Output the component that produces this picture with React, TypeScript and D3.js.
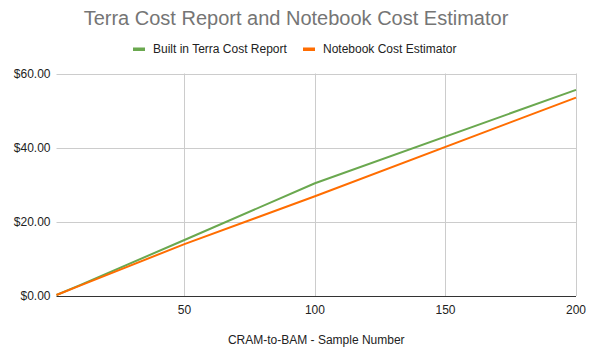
import { useEffect, useRef } from 'react'
import * as d3 from 'd3'

const samples = [1, 10, 50, 100, 200]
const terraCost = [0.28, 2.95, 15.1, 30.4, 55.6]
const notebookCost = [0.27, 2.8, 14.0, 26.9, 53.5]
const xTicks = [50, 100, 150, 200]
const yTicks = [0, 20, 40, 60]

const seriesNames = ['Built in Terra Cost Report', 'Notebook Cost Estimator']
const seriesColors = ['#6aa84f', '#ff6d01']

export default function App() {
  const svgRef = useRef<SVGSVGElement>(null)
  const width = 592
  const height = 354
  const margin = { top: 73.5, right: 16, bottom: 58, left: 56.5 }

  useEffect(() => {
    if (!svgRef.current) return
    const svg = d3.select(svgRef.current)
    svg.selectAll('*').remove()

    const font = 'Arial, "Liberation Sans", sans-serif'

    const x = d3.scaleLinear()
      .domain([1, 200])
      .range([margin.left, width - margin.right])
    const y = d3.scaleLinear()
      .domain([0, 60])
      .range([height - margin.bottom, margin.top])

    svg.append('rect')
      .attr('width', width)
      .attr('height', height)
      .attr('fill', '#fff')

    // gridlines
    svg.append('g')
      .selectAll('line')
      .data(yTicks.filter(d => d > 0))
      .enter()
      .append('line')
      .attr('x1', margin.left)
      .attr('x2', width - margin.right)
      .attr('y1', d => Math.round(y(d)) + 0.5)
      .attr('y2', d => Math.round(y(d)) + 0.5)
      .attr('stroke', '#cccccc')

    svg.append('g')
      .selectAll('line')
      .data(xTicks)
      .enter()
      .append('line')
      .attr('x1', d => Math.round(x(d)) + 0.5)
      .attr('x2', d => Math.round(x(d)) + 0.5)
      .attr('y1', margin.top)
      .attr('y2', height - margin.bottom)
      .attr('stroke', '#cccccc')

    // baseline
    svg.append('line')
      .attr('x1', margin.left)
      .attr('x2', width - margin.right)
      .attr('y1', Math.round(y(0)) + 0.5)
      .attr('y2', Math.round(y(0)) + 0.5)
      .attr('stroke', '#333333')

    // y labels
    svg.append('g')
      .selectAll('text')
      .data(yTicks)
      .enter()
      .append('text')
      .attr('x', margin.left - 6)
      .attr('y', d => y(d))
      .attr('dy', '0.35em')
      .attr('text-anchor', 'end')
      .attr('font-family', font)
      .attr('font-size', 12)
      .attr('fill', '#222')
      .text(d => d3.format('$.2f')(d))

    // x labels
    svg.append('g')
      .selectAll('text')
      .data(xTicks)
      .enter()
      .append('text')
      .attr('x', d => x(d))
      .attr('y', y(0) + 14)
      .attr('dy', '0.35em')
      .attr('text-anchor', 'middle')
      .attr('font-family', font)
      .attr('font-size', 12)
      .attr('fill', '#222')
      .text(d => d)

    // lines
    const line = d3.line<[number, number]>()
      .x(d => x(d[0]))
      .y(d => y(d[1]))

    const series = [terraCost, notebookCost]
    series.forEach((vals, i) => {
      svg.append('path')
        .datum(samples.map((s, j) => [s, vals[j]] as [number, number]))
        .attr('d', line)
        .attr('fill', 'none')
        .attr('stroke', seriesColors[i])
        .attr('stroke-width', 2)
        .attr('stroke-linejoin', 'round')
    })

    // title
    svg.append('text')
      .attr('x', width / 2)
      .attr('y', 25)
      .attr('text-anchor', 'middle')
      .attr('font-family', font)
      .attr('font-size', 20)
      .attr('fill', '#757575')
      .text('Terra Cost Report and Notebook Cost Estimator')

    // legend
    const legendX = [133, 303]
    seriesNames.forEach((name, i) => {
      svg.append('rect')
        .attr('x', legendX[i])
        .attr('y', 47.5)
        .attr('width', 12)
        .attr('height', 3.5)
        .attr('fill', seriesColors[i])
      svg.append('text')
        .attr('x', legendX[i] + 20)
        .attr('y', 49)
        .attr('dy', '0.35em')
        .attr('font-family', font)
        .attr('font-size', 12)
        .attr('fill', '#222')
        .text(name)
    })

    // x axis title
    svg.append('text')
      .attr('x', (margin.left + width - margin.right) / 2)
      .attr('y', 340)
      .attr('dy', '0.35em')
      .attr('text-anchor', 'middle')
      .attr('font-family', font)
      .attr('font-size', 12)
      .attr('fill', '#222')
      .text('CRAM-to-BAM - Sample Number')
  }, [])

  return (
    <svg
      ref={svgRef}
      width={width}
      height={height}
      style={{ position: 'absolute', left: 0, top: 0, display: 'block' }}
    />
  )
}
